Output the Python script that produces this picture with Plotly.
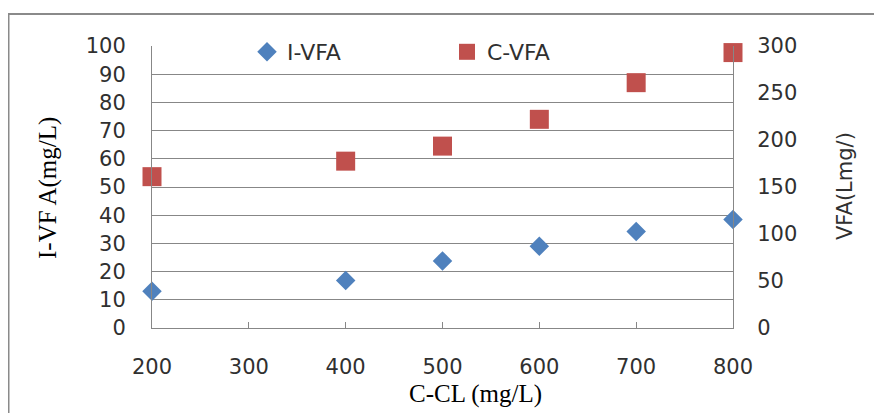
import plotly.graph_objects as go

# Data
x_vals = [200, 400, 500, 600, 700, 800]
i_vfa = [13.0, 16.8, 23.8, 29.0, 34.2, 38.5]      # left axis (mg/L)
c_vfa = [161.0, 177.5, 193.5, 222.0, 261.0, 293.0]  # right axis
x_ticks = [200, 300, 400, 500, 600, 700, 800]
y1_ticks = [0, 10, 20, 30, 40, 50, 60, 70, 80, 90, 100]
y2_ticks = [0, 50, 100, 150, 200, 250, 300]

BLUE = "#4F81BD"
RED = "#C0504D"
GRID = "#878787"
TXT = "#303030"
SANS = "DejaVu Sans"
SERIF = "Liberation Serif"

fig = go.Figure()
fig.add_trace(go.Scatter(
    x=x_vals, y=i_vfa, mode="markers", name="I-VFA",
    marker=dict(symbol="diamond", size=15, color=BLUE, line=dict(width=0)),
    yaxis="y", cliponaxis=False))
fig.add_trace(go.Scatter(
    x=x_vals, y=c_vfa, mode="markers", name="C-VFA",
    marker=dict(symbol="square", size=19, color=RED, line=dict(width=0)),
    yaxis="y2", cliponaxis=False))

# page has an 8px body margin; figure sized to fit the window
OFF = 8
W, H = 882 - OFF, 413 - OFF
# plot area in page pixels: x 152..733, y 46..328
PL, PR, PT, PB = 152, 733, 46, 328
L, R, T, B = PL - OFF, W - (PR - OFF), PT - OFF, H - (PB - OFF)
pw = PR - PL
ph = PB - PT

def px_x(px):
    return (px - PL) / pw

def px_y(py):
    return (PB - py) / ph

fig.update_layout(
    width=W, height=H,
    margin=dict(l=L, r=R, t=T, b=B, autoexpand=False),
    paper_bgcolor="white", plot_bgcolor="white",
    font=dict(family=SANS, size=21, color=TXT),
    showlegend=True,
    legend=dict(orientation="h", x=px_x(247), xanchor="left",
                y=px_y(52), yanchor="middle",
                bgcolor="rgba(0,0,0,0)", font=dict(family=SANS, size=22, color=TXT),
                entrywidth=155, entrywidthmode="pixels",
                itemsizing="trace"),
    xaxis=dict(range=[200, 800], tickvals=x_ticks, ticktext=[str(v) for v in x_ticks],
               showgrid=False, zeroline=False, showline=True, linecolor=GRID, linewidth=1,
               ticks="inside", ticklen=6, tickcolor=GRID,
               ticklabelstandoff=20, tickfont=dict(family=SANS, size=21, color=TXT)),
    yaxis=dict(range=[0, 100], tickvals=y1_ticks, showgrid=True, gridcolor=GRID, gridwidth=1,
               zeroline=False, showline=True, linecolor=GRID, linewidth=1, ticks="",
               ticklabelstandoff=21, tickfont=dict(family=SANS, size=21, color=TXT)),
    yaxis2=dict(range=[0, 300], tickvals=y2_ticks, overlaying="y", side="right",
                showgrid=False, zeroline=False, showline=True, linecolor=GRID, linewidth=1,
                ticks="", ticklabelstandoff=19, tickfont=dict(family=SANS, size=21, color=TXT)),
    shapes=[dict(type="rect", xref="paper", yref="paper",
                 x0=px_x(8.5), x1=px_x(900), y0=px_y(430), y1=px_y(14),
                 line=dict(color="#8a8a8a", width=2), fillcolor="rgba(0,0,0,0)", layer="below")],
    annotations=[
        dict(text="C-CL (mg/L)", xref="paper", yref="paper", x=px_x(475), y=px_y(394),
             xanchor="center", yanchor="middle", showarrow=False,
             font=dict(family=SERIF, size=25, color="#000000")),
        dict(text="I-VF A(mg/L)", xref="paper", yref="paper", x=px_x(48), y=px_y(188),
             xanchor="center", yanchor="middle", showarrow=False, textangle=-90,
             font=dict(family=SERIF, size=25, color="#000000")),
        dict(text="VFA(Lmg/)", xref="paper", yref="paper", x=px_x(845), y=px_y(186),
             xanchor="center", yanchor="middle", showarrow=False, textangle=-90,
             font=dict(family=SANS, size=21, color=TXT)),
    ],
)

fig.write_html("out.html")
